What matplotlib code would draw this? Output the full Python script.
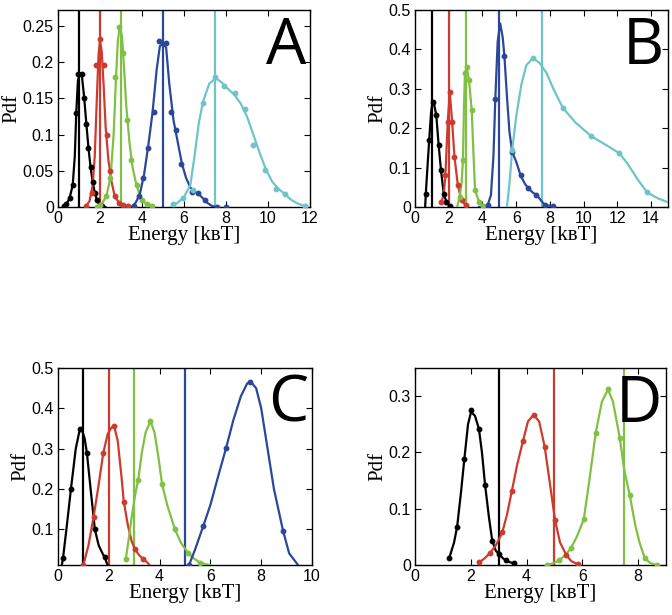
import matplotlib
matplotlib.use("Agg")
import matplotlib.pyplot as plt
from matplotlib.ticker import FormatStrFormatter

# colours of the five temperature series
c_black = "#000000"
c_red = "#cf3a2e"
c_green = "#80c044"
c_blue = "#2a479a"
c_cyan = "#6fc4c9"

# ---- panel A : smooth curve (e, p) and sample dots (de, dp) ----
a_black_e = [0.25, 0.4, 0.55, 0.7, 0.8, 0.87, 0.95, 1.05, 1.15, 1.25, 1.35, 1.45, 1.55, 1.65, 1.75, 1.85, 1.95, 2.1, 2.25]
a_black_p = [0, 0.004, 0.012, 0.03, 0.07, 0.13, 0.175, 0.185, 0.178, 0.15, 0.115, 0.082, 0.055, 0.035, 0.02, 0.01, 0.004, 0.001, 0]
a_black_de = [0.3, 0.4, 0.55, 0.7, 0.87, 0.97, 1.12, 1.25, 1.35, 1.45, 1.55, 1.65, 1.75, 1.85, 2.1]
a_black_dp = [0.001, 0.004, 0.012, 0.03, 0.13, 0.183, 0.183, 0.15, 0.115, 0.082, 0.055, 0.035, 0.02, 0.01, 0.001]

a_red_e = [1.3, 1.5, 1.65, 1.75, 1.85, 1.93, 2.0, 2.08, 2.17, 2.27, 2.4, 2.55, 2.7, 2.9, 3.1, 3.3, 3.5]
a_red_p = [0, 0.008, 0.03, 0.07, 0.15, 0.21, 0.23, 0.215, 0.17, 0.11, 0.065, 0.035, 0.015, 0.006, 0.003, 0.001, 0]
a_red_de = [1.35, 1.6, 1.83, 1.99, 2.19, 2.35, 2.5, 2.7, 2.9, 3.1, 3.35]
a_red_dp = [0.002, 0.02, 0.196, 0.232, 0.196, 0.1, 0.05, 0.015, 0.006, 0.003, 0.001]

a_green_e = [1.8, 2.1, 2.3, 2.5, 2.65, 2.75, 2.85, 2.95, 3.05, 3.15, 3.25, 3.4, 3.55, 3.7, 3.9, 4.1, 4.3, 4.6]
a_green_p = [0, 0.005, 0.015, 0.04, 0.1, 0.17, 0.23, 0.25, 0.235, 0.19, 0.14, 0.09, 0.055, 0.035, 0.015, 0.007, 0.003, 0]
a_green_de = [1.85, 2.0, 2.3, 2.5, 2.7, 2.9, 3.1, 3.3, 3.5, 3.75, 4.0, 4.25, 4.5]
a_green_dp = [0, 0.003, 0.015, 0.04, 0.18, 0.249, 0.212, 0.12, 0.065, 0.03, 0.01, 0.004, 0.001]

a_blue_e = [3.5, 3.7, 3.9, 4.1, 4.3, 4.5, 4.7, 4.85, 5.0, 5.15, 5.3, 5.5, 5.7, 5.9, 6.1, 6.3, 6.5, 6.7, 6.9, 7.1, 7.3, 7.5]
a_blue_p = [0, 0.006, 0.018, 0.045, 0.085, 0.13, 0.19, 0.222, 0.226, 0.22, 0.17, 0.12, 0.09, 0.06, 0.04, 0.027, 0.021, 0.018, 0.012, 0.006, 0.002, 0]
a_blue_de = [3.6, 3.85, 4.05, 4.3, 4.55, 4.82, 5.12, 5.4, 5.6, 5.88, 6.36, 6.68, 7.0, 7.55, 8.0]
a_blue_dp = [0.002, 0.015, 0.04, 0.081, 0.131, 0.229, 0.226, 0.131, 0.106, 0.06, 0.021, 0.02, 0.009, 0, 0]

a_cyan_e = [5.4, 5.7, 6.0, 6.3, 6.5, 6.7, 6.9, 7.2, 7.5, 7.8, 8.1, 8.4, 8.7, 9.0, 9.3, 9.6, 9.9, 10.2, 10.5, 10.8, 11.1, 11.4, 11.7, 12]
a_cyan_p = [0, 0.006, 0.014, 0.03, 0.07, 0.115, 0.145, 0.17, 0.178, 0.172, 0.163, 0.155, 0.143, 0.125, 0.1, 0.075, 0.052, 0.035, 0.025, 0.018, 0.01, 0.005, 0.002, 0]
a_cyan_de = [5.48, 5.96, 6.44, 6.92, 7.47, 7.9, 8.43, 8.9, 9.3, 9.86, 10.4, 10.8, 11.76]
a_cyan_dp = [0.004, 0.012, 0.023, 0.143, 0.179, 0.167, 0.157, 0.136, 0.085, 0.051, 0.025, 0.018, 0.002]

# ---- panel B ----
b_black_e = [0.6, 0.64, 0.75, 0.84, 0.95, 1.04, 1.1, 1.26, 1.4, 1.54, 1.7, 1.86, 2.0, 2.1]
b_black_p = [0, 0.034, 0.11, 0.17, 0.24, 0.267, 0.268, 0.233, 0.157, 0.093, 0.034, 0.013, 0.005, 0.002]
b_black_de = [0.64, 0.84, 1.04, 1.26, 1.4, 1.54, 1.7, 1.86, 2.1]
b_black_dp = [0.034, 0.17, 0.267, 0.233, 0.157, 0.093, 0.034, 0.013, 0.002]

b_red_e = [1.56, 1.7, 1.8, 1.94, 2.06, 2.2, 2.34, 2.54, 2.76, 3.0]
b_red_p = [0.013, 0.03, 0.08, 0.216, 0.292, 0.216, 0.127, 0.055, 0.017, 0.004]
b_red_de = [1.56, 1.8, 1.94, 2.06, 2.2, 2.34, 2.54, 2.76, 3.0]
b_red_dp = [0.013, 0.08, 0.216, 0.292, 0.216, 0.127, 0.055, 0.017, 0.004]

b_green_e = [2.5, 2.64, 2.76, 2.84, 2.9, 2.96, 3.06, 3.2, 3.36, 3.46, 3.56, 3.8, 4.04, 4.2]
b_green_p = [0, 0.025, 0.06, 0.119, 0.25, 0.339, 0.356, 0.322, 0.246, 0.14, 0.042, 0.013, 0.003, 0]
b_green_de = [2.64, 2.84, 2.96, 3.06, 3.2, 3.36, 3.56, 3.8, 4.04]
b_green_dp = [0.025, 0.119, 0.339, 0.356, 0.322, 0.246, 0.042, 0.013, 0.003]

b_blue_e = [3.8, 4.1, 4.3, 4.5, 4.65, 4.76, 4.9, 5.05, 5.2, 5.3, 5.45, 5.6, 5.76, 6.0, 6.26, 6.5, 6.7, 7.0, 7.2, 7.5, 7.7, 8.2]
b_blue_p = [0, 0.002, 0.004, 0.03, 0.13, 0.275, 0.42, 0.466, 0.43, 0.383, 0.28, 0.19, 0.14, 0.115, 0.08, 0.06, 0.048, 0.036, 0.031, 0.015, 0.005, 0.002]
b_blue_de = [4.3, 4.76, 5.3, 5.76, 6.26, 6.7, 7.2, 7.7, 8.2]
b_blue_dp = [0.004, 0.275, 0.383, 0.14, 0.08, 0.048, 0.031, 0.005, 0.003]

b_cyan_e = [5.45, 5.6, 5.76, 6.0, 6.3, 6.6, 7.0, 7.4, 7.8, 8.2, 8.76, 9.5, 10.44, 11.3, 12.1, 12.6, 13.2, 13.76, 14.4, 15.0]
b_cyan_p = [0, 0.06, 0.145, 0.23, 0.31, 0.36, 0.378, 0.365, 0.34, 0.3, 0.252, 0.215, 0.18, 0.158, 0.137, 0.11, 0.07, 0.037, 0.022, 0.012]
b_cyan_de = [5.76, 7.0, 8.76, 10.44, 12.1, 13.76]
b_cyan_dp = [0.145, 0.378, 0.252, 0.18, 0.137, 0.037]

# ---- panel C ----
c_black_e = [0.15, 0.2, 0.35, 0.51, 0.7, 0.86, 0.95, 1.05, 1.14, 1.3, 1.45, 1.6, 1.75, 1.84, 1.95]
c_black_p = [0.011, 0.029, 0.11, 0.2, 0.3, 0.348, 0.345, 0.325, 0.288, 0.19, 0.1, 0.06, 0.04, 0.03, 0.011]
c_black_de = [0.2, 0.51, 0.86, 1.14, 1.45, 1.84]
c_black_dp = [0.029, 0.2, 0.348, 0.288, 0.1, 0.03]

c_red_e = [1.0, 1.2, 1.4, 1.6, 1.78, 1.95, 2.1, 2.21, 2.35, 2.5, 2.59, 2.75, 2.9, 3.03, 3.2, 3.36, 3.5, 3.6]
c_red_p = [0.011, 0.06, 0.13, 0.21, 0.288, 0.335, 0.352, 0.355, 0.32, 0.23, 0.168, 0.11, 0.07, 0.05, 0.035, 0.026, 0.018, 0.011]
c_red_de = [1.0, 1.4, 1.78, 2.21, 2.59, 3.03, 3.36]
c_red_dp = [0.011, 0.13, 0.288, 0.355, 0.168, 0.05, 0.026]

c_green_e = [2.67, 2.75, 2.9, 3.05, 3.16, 3.3, 3.45, 3.64, 3.8, 3.95, 4.1, 4.3, 4.6, 4.85, 5.12, 5.35, 5.6, 5.8, 6.0]
c_green_p = [0.026, 0.06, 0.13, 0.19, 0.223, 0.29, 0.34, 0.368, 0.34, 0.28, 0.211, 0.16, 0.1, 0.065, 0.041, 0.027, 0.017, 0.013, 0.011]
c_green_de = [2.67, 3.16, 3.64, 4.1, 4.6, 5.12, 5.6]
c_green_dp = [0.026, 0.223, 0.368, 0.211, 0.1, 0.041, 0.017]

c_blue_e = [5.16, 5.4, 5.72, 6.0, 6.3, 6.62, 6.9, 7.2, 7.45, 7.6, 7.8, 8.0, 8.2, 8.5, 8.86, 9.1, 9.45]
c_blue_p = [0.011, 0.05, 0.108, 0.16, 0.23, 0.302, 0.37, 0.43, 0.462, 0.465, 0.45, 0.4, 0.32, 0.2, 0.096, 0.04, 0.011]
c_blue_de = [5.16, 5.72, 6.62, 7.57, 8.86]
c_blue_dp = [0.011, 0.108, 0.302, 0.466, 0.096]

# ---- panel D ----
d_black_e = [1.23, 1.4, 1.51, 1.65, 1.77, 1.9, 2.01, 2.15, 2.29, 2.4, 2.51, 2.65, 2.77, 2.9, 3.0, 3.15, 3.27, 3.4, 3.54]
d_black_p = [0.013, 0.04, 0.068, 0.13, 0.189, 0.25, 0.272, 0.265, 0.242, 0.2, 0.143, 0.085, 0.043, 0.025, 0.02, 0.012, 0.008, 0.005, 0.003]
d_black_de = [1.23, 1.51, 1.77, 2.01, 2.29, 2.51, 2.77, 3.0, 3.27, 3.54]
d_black_dp = [0.013, 0.068, 0.189, 0.275, 0.242, 0.143, 0.043, 0.02, 0.008, 0.003]

d_red_e = [2.31, 2.5, 2.7, 2.9, 3.13, 3.3, 3.47, 3.67, 3.87, 4.05, 4.25, 4.45, 4.65, 4.85, 5.02, 5.2, 5.42, 5.6, 5.84]
d_red_p = [0.005, 0.012, 0.022, 0.035, 0.058, 0.09, 0.131, 0.18, 0.22, 0.255, 0.267, 0.255, 0.21, 0.14, 0.08, 0.04, 0.018, 0.007, 0.001]
d_red_de = [2.31, 2.7, 3.13, 3.47, 3.87, 4.25, 4.65, 5.02, 5.42, 5.84]
d_red_dp = [0.005, 0.022, 0.058, 0.131, 0.22, 0.267, 0.21, 0.08, 0.018, 0.001]

d_green_e = [4.74, 4.95, 5.16, 5.4, 5.6, 5.8, 6.05, 6.25, 6.48, 6.7, 6.92, 7.1, 7.34, 7.5, 7.7, 7.9, 8.05, 8.24, 8.45, 8.66]
d_green_p = [0, 0.003, 0.008, 0.018, 0.031, 0.05, 0.081, 0.15, 0.235, 0.29, 0.312, 0.29, 0.226, 0.17, 0.124, 0.07, 0.04, 0.012, 0.003, 0]
d_green_de = [4.74, 5.16, 5.6, 6.05, 6.48, 6.92, 7.34, 7.7, 8.24, 8.66]
d_green_dp = [0, 0.008, 0.031, 0.081, 0.235, 0.312, 0.226, 0.124, 0.012, 0]

# reference energies (vertical lines)
a_vlines = [1, 2, 3, 5, 7.5]
b_vlines = [1, 2, 3, 5, 7.5]
c_vlines = [1, 2, 3, 5]
d_vlines = [3, 5, 7.5]

serif = ["Liberation Serif", "DejaVu Serif"]
plt.rcParams["font.family"] = ["Liberation Sans", "DejaVu Sans"]

fig = plt.figure(figsize=(6.72, 6.15), dpi=100)
ax_a = fig.add_axes([0.0863, 0.6634, 0.375, 0.3203])
ax_b = fig.add_axes([0.6176, 0.6634, 0.3765, 0.3203])
ax_c = fig.add_axes([0.0863, 0.0813, 0.378, 0.3203])
ax_d = fig.add_axes([0.6176, 0.0813, 0.3735, 0.3203])


def draw(ax, series, vlines, colors):
    for (e, p, de, dp), col in zip(series, colors):
        ax.plot(e, p, color=col, lw=1.6, zorder=3)
        ax.plot(de, dp, "o", color=col, ms=3.2, zorder=4)
    for v, col in zip(vlines, colors):
        ax.axvline(v, color=col, lw=1.6, zorder=2)


cols5 = [c_black, c_red, c_green, c_blue, c_cyan]
draw(ax_a, [(a_black_e, a_black_p, a_black_de, a_black_dp),
            (a_red_e, a_red_p, a_red_de, a_red_dp),
            (a_green_e, a_green_p, a_green_de, a_green_dp),
            (a_blue_e, a_blue_p, a_blue_de, a_blue_dp),
            (a_cyan_e, a_cyan_p, a_cyan_de, a_cyan_dp)], a_vlines, cols5)
draw(ax_b, [(b_black_e, b_black_p, b_black_de, b_black_dp),
            (b_red_e, b_red_p, b_red_de, b_red_dp),
            (b_green_e, b_green_p, b_green_de, b_green_dp),
            (b_blue_e, b_blue_p, b_blue_de, b_blue_dp),
            (b_cyan_e, b_cyan_p, b_cyan_de, b_cyan_dp)], b_vlines, cols5)
draw(ax_c, [(c_black_e, c_black_p, c_black_de, c_black_dp),
            (c_red_e, c_red_p, c_red_de, c_red_dp),
            (c_green_e, c_green_p, c_green_de, c_green_dp),
            (c_blue_e, c_blue_p, c_blue_de, c_blue_dp)], c_vlines, cols5[:4])
draw(ax_d, [(d_black_e, d_black_p, d_black_de, d_black_dp),
            (d_red_e, d_red_p, d_red_de, d_red_dp),
            (d_green_e, d_green_p, d_green_de, d_green_dp)], d_vlines, cols5[:3])

ax_a.set_xlim(0, 12)
ax_a.set_ylim(0, 0.272)
ax_a.set_xticks([0, 2, 4, 6, 8, 10, 12])
ax_a.set_yticks([0, 0.05, 0.1, 0.15, 0.2, 0.25])

ax_b.set_xlim(0, 15)
ax_b.set_ylim(0, 0.5)
ax_b.set_xticks([0, 2, 4, 6, 8, 10, 12, 14])
ax_b.set_yticks([0, 0.1, 0.2, 0.3, 0.4, 0.5])

ax_c.set_xlim(0, 10)
ax_c.set_ylim(0.011, 0.5)
ax_c.set_xticks([0, 2, 4, 6, 8, 10])
ax_c.set_yticks([0.1, 0.2, 0.3, 0.4, 0.5])

ax_d.set_xlim(0, 9)
ax_d.set_ylim(0, 0.35)
ax_d.set_xticks([0, 2, 4, 6, 8])
ax_d.set_yticks([0, 0.1, 0.2, 0.3])

for ax, letter in zip([ax_a, ax_b, ax_c, ax_d], "ABCD"):
    ax.tick_params(direction="in", top=True, right=True, labelsize=11.5, length=4,
                   width=0.8, pad=3)
    ax.yaxis.set_major_formatter(FormatStrFormatter("%g"))
    ax.xaxis.set_major_formatter(FormatStrFormatter("%g"))
    for s in ax.spines.values():
        s.set_linewidth(1.0)
    ax.set_xlabel("Energy [k\u0299T]", family=serif, fontsize=15, labelpad=0)
    ax.set_ylabel("Pdf", family=serif, fontsize=15, labelpad=1)
    ax.text(0.985, 0.975, letter, transform=ax.transAxes, ha="right", va="top",
            fontsize=46, family=["Open Sans", "DejaVu Sans"], zorder=5)

fig.savefig("out.png", dpi=100)
